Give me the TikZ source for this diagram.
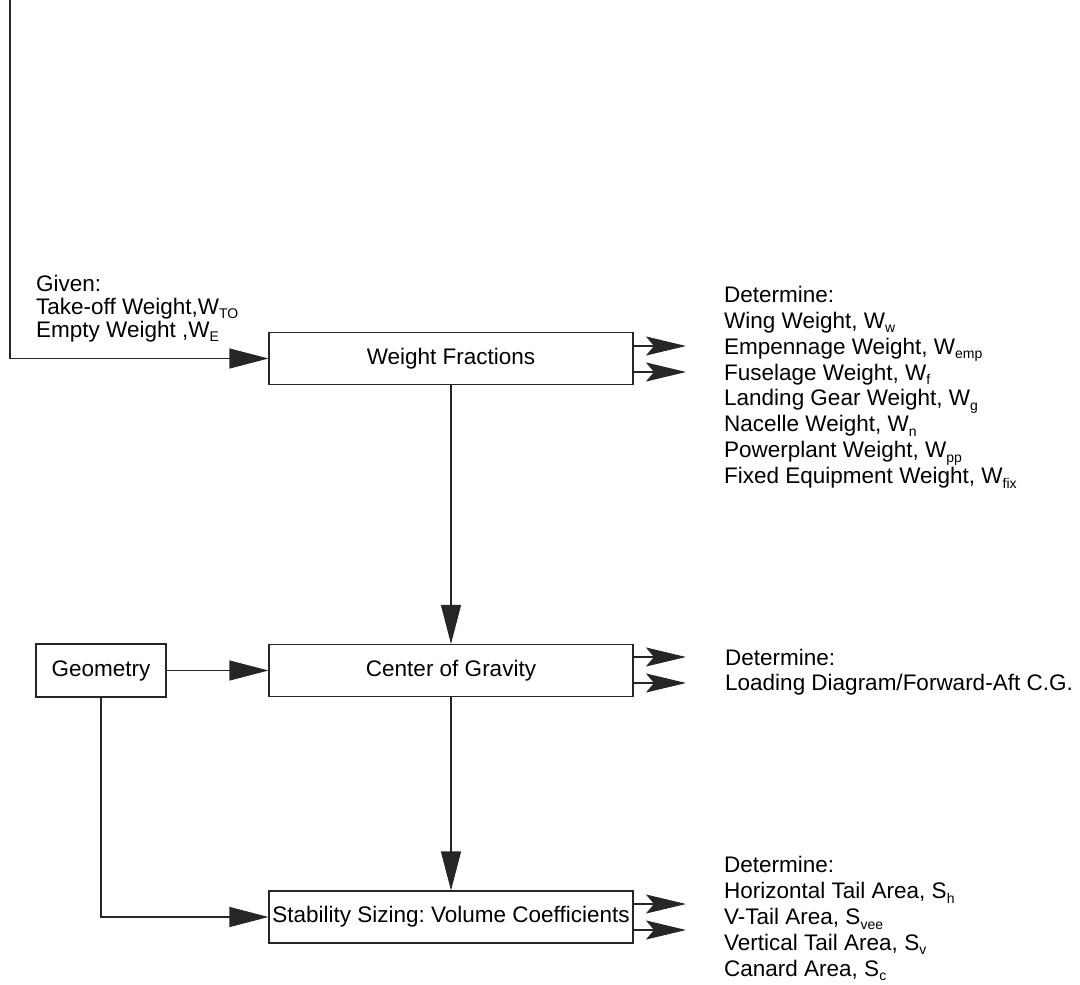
\documentclass[tikz,border=0pt]{standalone}
\usepackage{fontspec}
\setmainfont{Liberation Sans}
\usetikzlibrary{arrows.meta}
\frenchspacing

% lowered, smaller subscript as used in the weight and area symbols
\newcommand\sbs[1]{\raisebox{-4.5pt}{\fontsize{14}{14}\selectfont #1}}
% stack of left-aligned lines; baseline of the first line is the node base
\newcommand\linestack[2]{\vtop{\baselineskip=#1\lineskip=0pt\lineskiplimit=-100pt #2}}

\begin{document}
\begin{tikzpicture}[x=1pt,y=-1pt,
  every node/.style={font=\fontsize{22.5}{26}\selectfont, text=black},
  blk/.style={draw=black!85, line width=1.1pt, minimum width=364pt, minimum height=52pt, inner sep=0pt},
  smallblk/.style={blk, minimum width=130pt, minimum height=53pt},
  note/.style={anchor=base west, inner sep=0pt, align=left},
  feed/.style={draw=black!85, line width=1.1pt, -{Triangle[length=39pt,width=20pt]}},
  yield/.style={draw=black!85, line width=1.1pt, -{Stealth[length=40pt,width=19pt,inset=8pt]}}]

\useasboundingbox (0,0) rectangle (1080,985);

% process boxes
\node[blk] (wf) at (451,358.5) {Weight Fractions};
\node[blk] (cg) at (451,670.5) {Center of Gravity};
\node[blk] (stab) at (451,917) {Stability Sizing: Volume Coefficients};
\node[smallblk] (geo) at (101,670.5) {Geometry};

% input description
\node[note] (given) at (36,291) {\linestack{23pt}{%
  \hbox{Given:}
  \hbox{Take-off Weight,W\sbs{TO}}
  \hbox{Empty Weight ,W\sbs{E}}}};

% output descriptions
\node[note] (wfout) at (724,302.3) {\linestack{25.9pt}{%
  \hbox{Determine:}
  \hbox{Wing Weight, W\sbs{w}}
  \hbox{Empennage Weight, W\sbs{emp}}
  \hbox{Fuselage Weight, W\sbs{f}}
  \hbox{Landing Gear Weight, W\sbs{g}}
  \hbox{Nacelle Weight, W\sbs{n}}
  \hbox{Powerplant Weight, W\sbs{pp}}
  \hbox{Fixed Equipment Weight, W\sbs{fix}}}};

\node[note] (cgout) at (725,665) {\linestack{25.7pt}{%
  \hbox{Determine:}
  \hbox{Loading Diagram/Forward-Aft C.G.}}};

\node[note] (stabout) at (724,872.7) {\linestack{25.9pt}{%
  \hbox{Determine:}
  \hbox{Horizontal Tail Area, S\sbs{h}}
  \hbox{V-Tail Area, S\sbs{vee}}
  \hbox{Vertical Tail Area, S\sbs{v}}
  \hbox{Canard Area, S\sbs{c}}}};

% incoming line from above
\coordinate (src) at (10,0);
\draw[feed] (src) |- (wf.west);

% main flow
\draw[feed] (wf.south) -- (cg.north);
\draw[feed] (cg.south) -- (stab.north);
\draw[feed] (geo.east) -- (cg.west);
\draw[feed] (geo.south) |- (stab.west);

% output arrow end points
\coordinate (wfa) at (686,346);
\coordinate (wfb) at (686,372);
\coordinate (cga) at (686,657);
\coordinate (cgb) at (686,683);
\coordinate (sta) at (686,904);
\coordinate (stb) at (686,930);

\draw[yield] (wf.east |- wfa) -- (wfa);
\draw[yield] (wf.east |- wfb) -- (wfb);
\draw[yield] (cg.east |- cga) -- (cga);
\draw[yield] (cg.east |- cgb) -- (cgb);
\draw[yield] (stab.east |- sta) -- (sta);
\draw[yield] (stab.east |- stb) -- (stb);

\end{tikzpicture}
\end{document}
